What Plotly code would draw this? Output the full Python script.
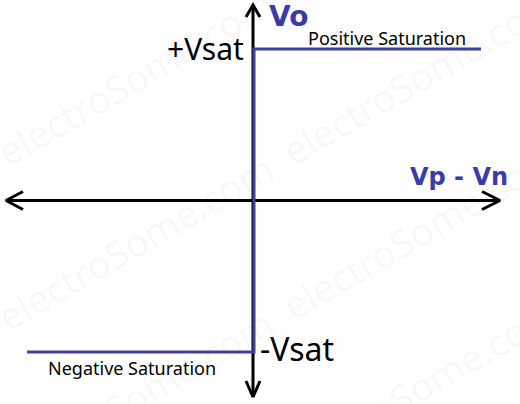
import plotly.graph_objects as go

# ---- data: ideal op-amp transfer characteristic (normalised) ----
vd = [-1.0, 0.0, 0.0, 1.0]          # Vp - Vn
vo = [-1.0, -1.0, 1.0, 1.0]         # output in units of Vsat
labels_axis = ["Vo", "Vp - Vn"]
labels_level = ["+Vsat", "-Vsat"]
labels_region = ["Positive Saturation", "Negative Saturation"]
watermark = "electroSome.com"

# ---- pixel <-> data helpers (layout only) ----
W, H = 520, 404
X0, SX = 254.0, 227.0
Y0, SY = 200.5, 151.5
def dx(px): return (px - X0) / SX
def dy(py): return (Y0 - py) / SY

BLUE_LINE = "#40409c"
BLUE_TEXT = "#3a3aa8"

fig = go.Figure()

# watermark tiles (very faint)
wm_centers = [(135, 77), (135, 242), (135, 397), (420, 76), (420, 231), (420, 386)]
for cx, cy in wm_centers:
    fig.add_annotation(x=dx(cx), y=dy(cy), text=watermark, showarrow=False,
                       textangle=-30, font=dict(family="Noto Sans", size=38,
                                                color="rgba(0,0,0,0.035)"))

# axes (black arrows)
def seg(points):
    xs, ys = [], []
    for p in points:
        if p is None:
            xs.append(None); ys.append(None)
        else:
            xs.append(dx(p[0])); ys.append(dy(p[1]))
    return xs, ys

axis_pts = [(6, 200.5), (500, 200.5), None,
            (23, 191.5), (6, 200.5), (23, 209.5), None,
            (482, 191.5), (500, 200.5), (482, 209.5), None,
            (253, 5), (253, 397), None,
            (246, 17), (253, 5), (260, 17), None,
            (246, 381), (253, 397), (260, 381)]
ax_x, ax_y = seg(axis_pts)
fig.add_trace(go.Scatter(x=ax_x, y=ax_y, mode="lines",
                         line=dict(color="black", width=3),
                         hoverinfo="skip", showlegend=False))

# transfer characteristic
fig.add_trace(go.Scatter(x=vd, y=vo, mode="lines",
                         line=dict(color=BLUE_LINE, width=3, shape="linear"),
                         showlegend=False))

# labels
fig.add_annotation(x=dx(267), y=dy(16.5), text=labels_axis[0], showarrow=False,
                   xanchor="left", yanchor="middle",
                   font=dict(family="DejaVu Sans", size=28, color=BLUE_TEXT, weight="bold"))
fig.add_annotation(x=dx(510), y=dy(176.5), text=labels_axis[1], showarrow=False,
                   xanchor="right", yanchor="middle",
                   font=dict(family="DejaVu Sans", size=24, color=BLUE_TEXT, weight="bold"))
fig.add_annotation(x=dx(246), y=dy(48.5), text=labels_level[0], showarrow=False,
                   xanchor="right", yanchor="middle",
                   font=dict(family="Noto Sans", size=30, color="black"))
fig.add_annotation(x=dx(258), y=dy(348.5), text=labels_level[1], showarrow=False,
                   xanchor="left", yanchor="middle",
                   font=dict(family="Noto Sans", size=32, color="black"))
fig.add_annotation(x=dx(306), y=dy(38), text=labels_region[0], showarrow=False,
                   xanchor="left", yanchor="middle",
                   font=dict(family="Noto Sans", size=18, color="black"))
fig.add_annotation(x=dx(46), y=dy(367.5), text=labels_region[1], showarrow=False,
                   xanchor="left", yanchor="middle",
                   font=dict(family="Noto Sans", size=18, color="black"))

fig.update_layout(
    width=W, height=H, autosize=False,
    margin=dict(l=0, r=0, t=0, b=0),
    paper_bgcolor="white", plot_bgcolor="white",
    xaxis=dict(range=[dx(0), dx(W)], visible=False, fixedrange=True),
    yaxis=dict(range=[dy(H), dy(0)], visible=False, fixedrange=True),
    showlegend=False,
)
fig.write_html("out.html", config={"displayModeBar": False},
               post_script="document.body.style.margin='0';document.body.style.overflow='hidden';")
